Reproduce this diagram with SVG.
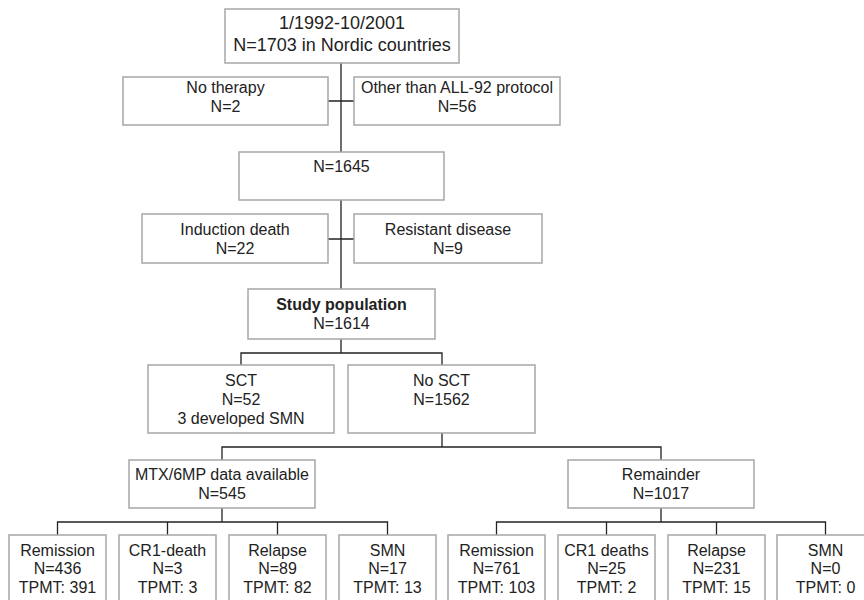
<svg xmlns="http://www.w3.org/2000/svg" width="864" height="600" viewBox="0 0 864 600">
<style>
.box{fill:#fff;stroke:#a6a6a6;stroke-width:1.5}
.t{font-family:"Liberation Sans",Arial,sans-serif;font-size:16px;fill:#222;text-anchor:middle}
.big{font-size:18px}
.b{font-weight:bold}
.c{fill:none;stroke:#222;stroke-width:1.3}
</style>
<rect width="864" height="600" fill="#fff"/>
<g id="connectors">
<path class="c" d="M341,63V152M328,101H354"/>
<path class="c" d="M341,200V289M328,239H354"/>
<path class="c" d="M341,339V353M241,365V353H442V365"/>
<path class="c" d="M442,433V447M222,460V447H661V460"/>
<path class="c" d="M222,508V522M57.5,535V522H387.5V535M167.5,522V535M277.5,522V535"/>
<path class="c" d="M661,508V522M496.5,535V522H825.5V535M606.5,522V535M716.5,522V535"/>
</g>
<g id="n-top"><rect class="box" x="225" y="9" width="234" height="54"/>
<text class="t big" x="342" y="29">1/1992-10/2001</text>
<text class="t big" x="342" y="51">N=1703 in Nordic countries</text></g>
<g id="n-notherapy"><rect class="box" x="123" y="77" width="205" height="48"/>
<text class="t" x="225.5" y="93">No therapy</text>
<text class="t" x="225.5" y="112">N=2</text></g>
<g id="n-other"><rect class="box" x="354" y="77" width="206" height="48"/>
<text class="t" x="457" y="93">Other than ALL-92 protocol</text>
<text class="t" x="457" y="112">N=56</text></g>
<g id="n-1645"><rect class="box" x="239" y="152" width="205" height="48"/>
<text class="t" x="341.5" y="172">N=1645</text></g>
<g id="n-induction"><rect class="box" x="142" y="214" width="186" height="49"/>
<text class="t" x="235" y="235">Induction death</text>
<text class="t" x="235" y="254">N=22</text></g>
<g id="n-resistant"><rect class="box" x="354" y="214" width="188" height="49"/>
<text class="t" x="448" y="235">Resistant disease</text>
<text class="t" x="448" y="254">N=9</text></g>
<g id="n-study"><rect class="box" x="248" y="289" width="187" height="50"/>
<text class="t b" x="341.5" y="310">Study population</text>
<text class="t" x="341.5" y="329">N=1614</text></g>
<g id="n-sct"><rect class="box" x="148" y="365" width="186" height="68"/>
<text class="t" x="241" y="386">SCT</text>
<text class="t" x="241" y="405">N=52</text>
<text class="t" x="241" y="424">3 developed SMN</text></g>
<g id="n-nosct"><rect class="box" x="348" y="365" width="187" height="68"/>
<text class="t" x="441.5" y="386">No SCT</text>
<text class="t" x="441.5" y="405">N=1562</text></g>
<g id="n-mtx"><rect class="box" x="129" y="460" width="186" height="48"/>
<text class="t" x="222" y="480">MTX/6MP data available</text>
<text class="t" x="222" y="499">N=545</text></g>
<g id="n-remainder"><rect class="box" x="568" y="460" width="186" height="48"/>
<text class="t" x="661" y="480">Remainder</text>
<text class="t" x="661" y="499">N=1017</text></g>
<g id="n-rem1"><rect class="box" x="9" y="535" width="97" height="80"/>
<text class="t" x="57.5" y="556">Remission</text><text class="t" x="57.5" y="574">N=436</text><text class="t" x="57.5" y="593">TPMT: 391</text></g>
<g id="n-cr1"><rect class="box" x="119" y="535" width="97" height="80"/>
<text class="t" x="167.5" y="556">CR1-death</text><text class="t" x="167.5" y="574">N=3</text><text class="t" x="167.5" y="593">TPMT: 3</text></g>
<g id="n-rel1"><rect class="box" x="229" y="535" width="97" height="80"/>
<text class="t" x="277.5" y="556">Relapse</text><text class="t" x="277.5" y="574">N=89</text><text class="t" x="277.5" y="593">TPMT: 82</text></g>
<g id="n-smn1"><rect class="box" x="339" y="535" width="97" height="80"/>
<text class="t" x="387.5" y="556">SMN</text><text class="t" x="387.5" y="574">N=17</text><text class="t" x="387.5" y="593">TPMT: 13</text></g>
<g id="n-rem2"><rect class="box" x="448" y="535" width="97" height="80"/>
<text class="t" x="496.5" y="556">Remission</text><text class="t" x="496.5" y="574">N=761</text><text class="t" x="496.5" y="593">TPMT: 103</text></g>
<g id="n-cr2"><rect class="box" x="558" y="535" width="97" height="80"/>
<text class="t" x="606.5" y="556">CR1 deaths</text><text class="t" x="606.5" y="574">N=25</text><text class="t" x="606.5" y="593">TPMT: 2</text></g>
<g id="n-rel2"><rect class="box" x="668" y="535" width="97" height="80"/>
<text class="t" x="716.5" y="556">Relapse</text><text class="t" x="716.5" y="574">N=231</text><text class="t" x="716.5" y="593">TPMT: 15</text></g>
<g id="n-smn2"><rect class="box" x="777" y="535" width="97" height="80"/>
<text class="t" x="825.5" y="556">SMN</text><text class="t" x="825.5" y="574">N=0</text><text class="t" x="825.5" y="593">TPMT: 0</text></g>
</svg>
